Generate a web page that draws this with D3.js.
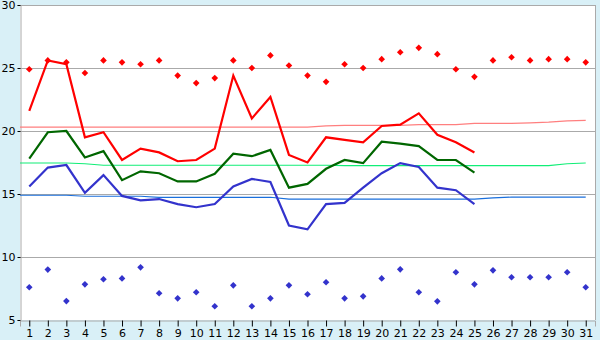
<!DOCTYPE html>
<html>
<head>
<meta charset="utf-8">
<script src="https://d3js.org/d3.v7.min.js"></script>
<style>
  body { margin: 0; background: #d9f0f7; }
  svg { display: block; }
  text { font-family: "DejaVu Sans", Verdana, sans-serif; font-size: 11px; fill: #000; }
</style>
</head>
<body>
<div id="chart"></div>
<script>
// chart size and plot margins
var W = 600, H = 340;
var margin = {top: 5, right: 5, bottom: 20, left: 20},
    width = W - margin.left - margin.right,
    height = H - margin.top - margin.bottom;

// days of the month
var days = d3.range(1, 32);
var yTicks = [5, 10, 15, 20, 25, 30];

// measured daily values (days 1-25)
var tMax = [21.6, 25.6, 25.3, 19.5, 19.9, 17.7, 18.6, 18.3, 17.6, 17.7,
            18.6, 24.4, 21.0, 22.7, 18.1, 17.5, 19.5, 19.3, 19.1, 20.4,
            20.5, 21.4, 19.7, 19.1, 18.3];
var tMean = [17.8, 19.9, 20.0, 17.9, 18.4, 16.1, 16.8, 16.65, 16.0, 16.0,
             16.6, 18.2, 18.0, 18.5, 15.5, 15.8, 17.0, 17.7, 17.45, 19.15,
             19.0, 18.8, 17.7, 17.7, 16.7];
var tMin = [15.6, 17.1, 17.3, 15.1, 16.5, 14.85, 14.5, 14.6, 14.2, 13.95,
            14.2, 15.6, 16.2, 15.95, 12.5, 12.2, 14.2, 14.3, 15.5, 16.65,
            17.45, 17.15, 15.5, 15.3, 14.2];

// normals (days 1-31)
var normMax = [20.3, 20.3, 20.3, 20.3, 20.3, 20.3, 20.3, 20.3, 20.3, 20.3,
               20.3, 20.3, 20.3, 20.3, 20.3, 20.3, 20.4, 20.45, 20.45, 20.45,
               20.45, 20.5, 20.5, 20.5, 20.6, 20.6, 20.6, 20.65, 20.7, 20.8, 20.85];
var normMean = [17.46, 17.46, 17.46, 17.4, 17.28, 17.28, 17.28, 17.28, 17.28, 17.28,
                17.28, 17.28, 17.28, 17.28, 17.28, 17.28, 17.28, 17.25, 17.25, 17.25,
                17.25, 17.25, 17.25, 17.25, 17.25, 17.25, 17.25, 17.25, 17.25, 17.4, 17.46];
var normMin = [14.9, 14.9, 14.9, 14.82, 14.82, 14.82, 14.82, 14.74, 14.74, 14.74,
               14.74, 14.74, 14.74, 14.74, 14.6, 14.6, 14.6, 14.6, 14.6, 14.6,
               14.6, 14.6, 14.6, 14.6, 14.6, 14.7, 14.75, 14.75, 14.75, 14.75, 14.75];

// record values (days 1-31)
var recMax = [24.9, 25.6, 25.45, 24.6, 25.6, 25.45, 25.3, 25.6, 24.4, 23.8,
              24.2, 25.6, 25.0, 26.0, 25.2, 24.4, 23.9, 25.3, 25.0, 25.7,
              26.25, 26.6, 26.1, 24.9, 24.3, 25.6, 25.85, 25.6, 25.7, 25.7, 25.45];
var recMin = [7.6, 9.0, 6.5, 7.83, 8.23, 8.3, 9.18, 7.12, 6.72, 7.2,
              6.09, 7.75, 6.09, 6.72, 7.75, 7.04, 8.0, 6.72, 6.88, 8.3,
              9.02, 7.2, 6.48, 8.79, 7.83, 8.94, 8.39, 8.39, 8.39, 8.79, 7.6];

function init() {
  var svg = d3.select("#chart")
    .append("svg")
    .attr("width", W)
    .attr("height", H);

  var g = svg.append("g")
    .attr("transform", "translate(" + margin.left + "," + margin.top + ")");

  var x = d3.scalePoint()
    .domain(days)
    .range([0, width])
    .padding(0.5);

  var y = d3.scaleLinear()
    .domain([5, 30])
    .range([height, 0]);

  // white plot area
  g.append("rect")
    .attr("width", width)
    .attr("height", height)
    .attr("fill", "#fff");

  // horizontal grid
  g.append("g")
    .selectAll("line")
    .data(yTicks.slice(1))
    .enter()
    .append("line")
      .attr("x1", 0)
      .attr("x2", width)
      .attr("y1", d => y(d) + 0.5)
      .attr("y2", d => y(d) + 0.5)
      .attr("stroke", "#aaa");

  // right border
  g.append("line")
    .attr("x1", width + 0.5).attr("x2", width + 0.5)
    .attr("y1", 0).attr("y2", height)
    .attr("stroke", "#aaa");

  // axes
  var yAxis = g.append("g")
    .attr("transform", "translate(0.5,0)")
    .call(d3.axisLeft(y).tickValues(yTicks).tickSize(3).tickPadding(2));
  var xAxis = g.append("g")
    .attr("transform", "translate(0," + (height + 0.5) + ")")
    .call(d3.axisBottom(x).tickSize(6).tickPadding(3));
  [yAxis, xAxis].forEach(function(a) {
    a.select(".domain").attr("stroke", "#aaa");
    a.selectAll(".tick line").attr("stroke", "#000");
    a.selectAll("text").attr("font-family", null).attr("font-size", null);
  });
  yAxis.selectAll(".tick text").attr("dy", "0.36em");

  // normals: thin lines starting at left edge
  function normPath(vals, color) {
    var pts = [[0, vals[0]]].concat(vals.map((v, i) => [x(days[i]), v]));
    g.append("path")
      .datum(pts)
      .attr("fill", "none")
      .attr("stroke", color)
      .attr("stroke-width", 1.2)
      .attr("d", d3.line().x(d => d[0]).y(d => y(d[1])));
  }
  normPath(normMax, "#ff7f7f");
  normPath(normMean, "#11ee77");
  normPath(normMin, "#1a6fdc");

  // daily lines
  var thick = d3.line()
    .x((d, i) => x(days[i]))
    .y(d => y(d));
  [[tMax, "#ff0000"], [tMean, "#006600"], [tMin, "#3333cc"]].forEach(function(s) {
    g.append("path")
      .datum(s[0])
      .attr("fill", "none")
      .attr("stroke", s[1])
      .attr("stroke-width", 2.2)
      .attr("d", thick);
  });

  // records: small square diamonds
  var sym = d3.symbol().type(d3.symbolSquare).size(22);
  [[recMax, "#ff0000"], [recMin, "#3333cc"]].forEach(function(s) {
    g.append("g")
      .selectAll("path")
      .data(s[0])
      .enter()
      .append("path")
        .attr("transform", (d, i) => "translate(" + x(days[i]) + "," + y(d) + ") rotate(45)")
        .attr("d", sym)
        .attr("fill", s[1]);
  });
}

init();
</script>
</body>
</html>
